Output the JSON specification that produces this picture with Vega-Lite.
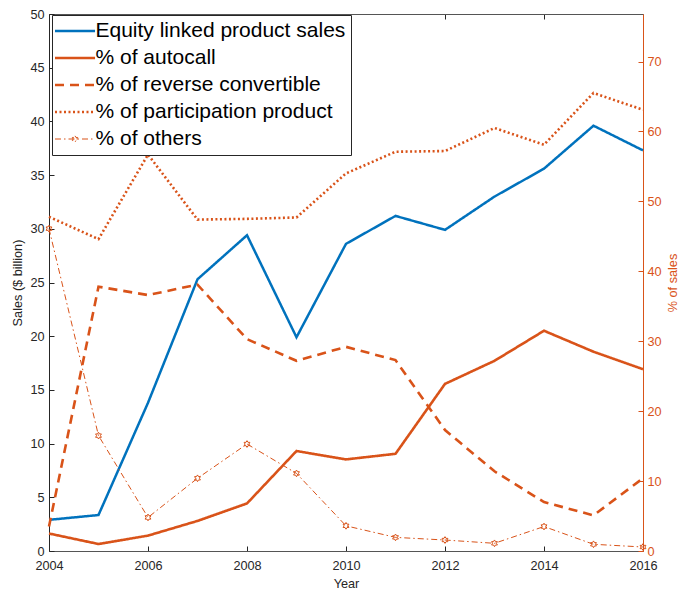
{
  "$schema": "https://vega.github.io/schema/vega-lite/v6.json",
  "width": 594,
  "height": 537,
  "autosize": {"type": "none"},
  "padding": {"left": 49, "top": 14, "right": 36, "bottom": 39},
  "background": "white",
  "config": {
    "font": "Liberation Sans",
    "view": {"stroke": null},
    "axis": {
      "labelFont": "Liberation Sans",
      "titleFont": "Liberation Sans",
      "labelFontSize": 12.7,
      "titleFontSize": 12.7,
      "titleFontWeight": "normal",
      "grid": false,
      "tickSize": -5,
      "labelFlush": false,
      "labelColor": "#262626",
      "titleColor": "#262626",
      "tickColor": "#262626",
      "domainColor": "#262626"
    }
  },
  "datasets": {
    "sales": [
      {"year": 2004, "series": "Equity linked product sales", "value": 2.9},
      {"year": 2005, "series": "Equity linked product sales", "value": 3.35},
      {"year": 2006, "series": "Equity linked product sales", "value": 13.8},
      {"year": 2007, "series": "Equity linked product sales", "value": 25.3},
      {"year": 2008, "series": "Equity linked product sales", "value": 29.4},
      {"year": 2009, "series": "Equity linked product sales", "value": 19.9},
      {"year": 2010, "series": "Equity linked product sales", "value": 28.6},
      {"year": 2011, "series": "Equity linked product sales", "value": 31.2},
      {"year": 2012, "series": "Equity linked product sales", "value": 29.9},
      {"year": 2013, "series": "Equity linked product sales", "value": 33.0},
      {"year": 2014, "series": "Equity linked product sales", "value": 35.6},
      {"year": 2015, "series": "Equity linked product sales", "value": 39.6},
      {"year": 2016, "series": "Equity linked product sales", "value": 37.3}
    ],
    "shares": [
      {"year": 2004, "series": "% of autocall", "value": 2.5},
      {"year": 2005, "series": "% of autocall", "value": 1.0},
      {"year": 2006, "series": "% of autocall", "value": 2.2},
      {"year": 2007, "series": "% of autocall", "value": 4.3},
      {"year": 2008, "series": "% of autocall", "value": 6.8},
      {"year": 2009, "series": "% of autocall", "value": 14.3},
      {"year": 2010, "series": "% of autocall", "value": 13.1},
      {"year": 2011, "series": "% of autocall", "value": 13.9},
      {"year": 2012, "series": "% of autocall", "value": 23.9},
      {"year": 2013, "series": "% of autocall", "value": 27.2},
      {"year": 2014, "series": "% of autocall", "value": 31.5},
      {"year": 2015, "series": "% of autocall", "value": 28.5},
      {"year": 2016, "series": "% of autocall", "value": 26.0},
      {"year": 2004, "series": "% of reverse convertible", "value": 3.5},
      {"year": 2005, "series": "% of reverse convertible", "value": 37.8},
      {"year": 2006, "series": "% of reverse convertible", "value": 36.6},
      {"year": 2007, "series": "% of reverse convertible", "value": 38.1},
      {"year": 2008, "series": "% of reverse convertible", "value": 30.3},
      {"year": 2009, "series": "% of reverse convertible", "value": 27.2},
      {"year": 2010, "series": "% of reverse convertible", "value": 29.2},
      {"year": 2011, "series": "% of reverse convertible", "value": 27.3},
      {"year": 2012, "series": "% of reverse convertible", "value": 17.3},
      {"year": 2013, "series": "% of reverse convertible", "value": 11.4},
      {"year": 2014, "series": "% of reverse convertible", "value": 7.0},
      {"year": 2015, "series": "% of reverse convertible", "value": 5.1},
      {"year": 2016, "series": "% of reverse convertible", "value": 10.4},
      {"year": 2004, "series": "% of participation product", "value": 47.8},
      {"year": 2005, "series": "% of participation product", "value": 44.6},
      {"year": 2006, "series": "% of participation product", "value": 56.7},
      {"year": 2007, "series": "% of participation product", "value": 47.4},
      {"year": 2008, "series": "% of participation product", "value": 47.5},
      {"year": 2009, "series": "% of participation product", "value": 47.7},
      {"year": 2010, "series": "% of participation product", "value": 54.0},
      {"year": 2011, "series": "% of participation product", "value": 57.1},
      {"year": 2012, "series": "% of participation product", "value": 57.2},
      {"year": 2013, "series": "% of participation product", "value": 60.5},
      {"year": 2014, "series": "% of participation product", "value": 58.1},
      {"year": 2015, "series": "% of participation product", "value": 65.5},
      {"year": 2016, "series": "% of participation product", "value": 63.1},
      {"year": 2004, "series": "% of others", "value": 46.1},
      {"year": 2005, "series": "% of others", "value": 16.5},
      {"year": 2006, "series": "% of others", "value": 4.8},
      {"year": 2007, "series": "% of others", "value": 10.4},
      {"year": 2008, "series": "% of others", "value": 15.3},
      {"year": 2009, "series": "% of others", "value": 11.1},
      {"year": 2010, "series": "% of others", "value": 3.6},
      {"year": 2011, "series": "% of others", "value": 1.95},
      {"year": 2012, "series": "% of others", "value": 1.57},
      {"year": 2013, "series": "% of others", "value": 1.1},
      {"year": 2014, "series": "% of others", "value": 3.5},
      {"year": 2015, "series": "% of others", "value": 0.96},
      {"year": 2016, "series": "% of others", "value": 0.57}
    ]
  },
  "layer": [
    {
      "data": {"name": "sales"},
      "mark": {"type": "line", "strokeWidth": 2.5},
      "encoding": {
        "x": {
          "field": "year", "type": "quantitative",
          "scale": {"domain": [2004, 2016], "nice": false, "zero": false},
          "axis": {
            "orient": "bottom", "title": "Year", "format": "d",
            "values": [2004, 2006, 2008, 2010, 2012, 2014, 2016],
            "labelPadding": 13, "titlePadding": 6, "domainColor": "#555555"
          }
        },
        "y": {
          "field": "value", "type": "quantitative",
          "scale": {"domain": [0, 50], "nice": false},
          "axis": {
            "orient": "left", "title": "Sales ($ billion)",
            "values": [0, 5, 10, 15, 20, 25, 30, 35, 40, 45, 50],
            "labelPadding": 10, "titlePadding": 5
          }
        },
        "color": {
          "field": "series", "type": "nominal",
          "scale": {
            "domain": ["Equity linked product sales", "% of autocall", "% of reverse convertible", "% of participation product", "% of others"],
            "range": ["#0072BD", "#D95319", "#D95319", "#D95319", "#D95319"]
          },
          "legend": {
            "orient": "none", "legendX": 3, "legendY": 1, "title": null,
            "padding": 5.5, "fillColor": "white", "strokeColor": "#262626",
            "labelFont": "Liberation Sans", "labelFontSize": 21, "labelColor": "#000000",
            "labelLimit": 0,
            "symbolType": "M-1,0H2.08", "symbolSize": 676, "symbolStrokeWidth": 2.5,
            "rowPadding": 5, "labelOffset": 17,
            "encode": {
              "symbols": {
                "update": {
                  "strokeWidth": {"signal": "datum.value === '% of others' ? 1 : 2.5"},
                  "shape": {"signal": "datum.value === '% of others' ? 'M-1,0H2.08M0.54,-0.24L0.609,-0.12L0.748,-0.12L0.679,0L0.748,0.12L0.609,0.12L0.54,0.24L0.471,0.12L0.332,0.12L0.401,0L0.332,-0.12L0.471,-0.12Z' : 'M-1,0H2.08'"}
                }
              }
            }
          }
        },
        "strokeDash": {
          "field": "series", "type": "nominal",
          "scale": {
            "domain": ["Equity linked product sales", "% of autocall", "% of reverse convertible", "% of participation product", "% of others"],
            "range": [[1, 0], [1, 0], [9, 6], [2, 2.5], [6, 3, 1.5, 3]]
          },
          "legend": {
            "orient": "none", "legendX": 3, "legendY": 1, "title": null,
            "padding": 5.5, "fillColor": "white", "strokeColor": "#262626",
            "labelFont": "Liberation Sans", "labelFontSize": 21, "labelColor": "#000000",
            "labelLimit": 0,
            "symbolType": "M-1,0H2.08", "symbolSize": 676, "symbolStrokeWidth": 2.5,
            "rowPadding": 5, "labelOffset": 17
          }
        }
      }
    },
    {
      "data": {"name": "shares"},
      "encoding": {
        "x": {
          "field": "year", "type": "quantitative",
          "scale": {"domain": [2004, 2016], "nice": false, "zero": false},
          "axis": {
            "orient": "top", "title": null, "labels": false,
            "values": [2004, 2006, 2008, 2010, 2012, 2014, 2016],
            "domainColor": "#555555"
          }
        },
        "y": {
          "field": "value", "type": "quantitative",
          "scale": {"domain": [0, 76.8], "nice": false},
          "axis": {
            "orient": "right", "title": "% of sales",
            "values": [0, 10, 20, 30, 40, 50, 60, 70],
            "labelPadding": 9, "titlePadding": 18, "titleAngle": 270,
            "labelColor": "#D95319", "titleColor": "#D95319",
            "tickColor": "#D95319", "domainColor": "#D95319"
          }
        }
      },
      "layer": [
        {
          "mark": {"type": "line"},
          "encoding": {
            "color": {"field": "series", "type": "nominal"},
            "strokeDash": {"field": "series", "type": "nominal"},
            "strokeWidth": {
              "condition": {"test": "datum.series === '% of others'", "value": 1},
              "value": 2.6
            }
          }
        },
        {
          "transform": [{"filter": "datum.series === '% of others'"}],
          "mark": {
            "type": "point", "filled": false, "stroke": "#D95319", "strokeWidth": 1, "opacity": 1,
            "size": 45,
            "shape": "M0,-1L0.289,-0.5L0.866,-0.5L0.577,0L0.866,0.5L0.289,0.5L0,1L-0.289,0.5L-0.866,0.5L-0.577,0L-0.866,-0.5L-0.289,-0.5Z"
          }
        }
      ]
    }
  ],
  "resolve": {"scale": {"y": "independent"}, "axis": {"x": "independent"}}
}
